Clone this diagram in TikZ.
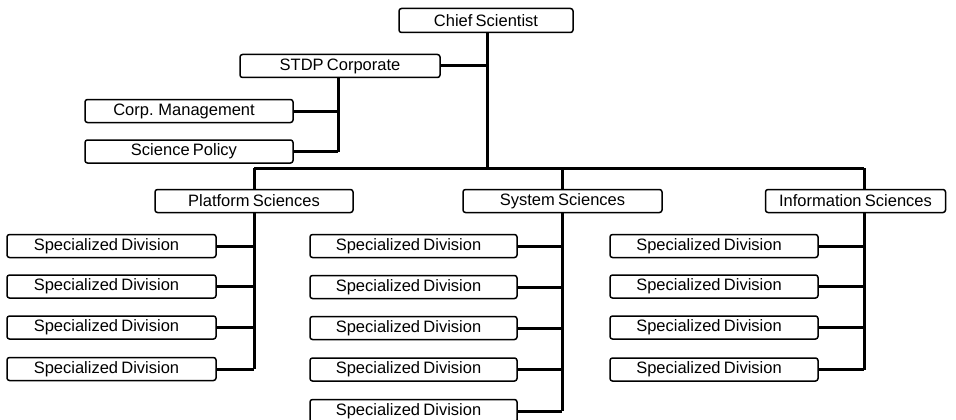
\documentclass[tikz,border=0pt]{standalone}
\usepackage{fontspec}
\setmainfont{Liberation Sans}
\begin{document}
\begin{tikzpicture}[x=1pt,y=-1pt,
 box/.style={draw, line width=1.5pt, rounded corners=2.5pt, minimum height=23pt, inner sep=0pt, fill=white, font=\fontsize{16.5}{18}\selectfont, execute at begin node={\spaceskip=0.2em plus 0.1em\relax}},
 lshift/.style={execute at end node={\hspace*{10pt}}},
 conn/.style={line width=3pt}]
\useasboundingbox (0,0) rectangle (956,420);
% top level
\node[box, minimum width=174pt, minimum height=24pt] (chief) at (486,20.5) {Chief Scientist};
\node[box, minimum width=200pt] (stdp) at (340,66) {STDP Corporate};
\node[box, lshift, minimum width=208pt] (corp) at (189,111) {Corp. Management};
\node[box, lshift, minimum width=208pt] (pol) at (189,151.5) {Science Policy};
% sciences
\node[box, minimum width=198pt] (plat) at (254,201) {Platform Sciences};
\node[box, minimum width=199pt] (sys) at (562.5,201) {System Sciences};
\node[box, minimum width=180pt] (info) at (855.5,201) {Information Sciences};
% divisions
\foreach \i/\y in {1/246,2/286.5,3/327.5,4/369}{
  \node[box, lshift, minimum width=209pt] (p\i) at (111.5,\y) {Specialized Division};
}
\foreach \i/\y in {1/246,2/287,3/328,4/369.5,5/411}{
  \node[box, lshift, minimum width=207pt] (s\i) at (413.5,\y) {Specialized Division};
}
\foreach \i/\y in {1/246,2/286.5,3/327.5,4/369.5}{
  \node[box, lshift, minimum width=208pt] (n\i) at (714,\y) {Specialized Division};
}
% coordinates
\coordinate (bus) at (487,168);
\coordinate (pb) at (254,168);
\coordinate (sb) at (562,168);
\coordinate (ib) at (864,168);
\coordinate (sv) at (338,0);
% connectors
\draw[conn] (chief.south -| bus) -- (bus);
\draw[conn] (stdp.east) -- (stdp.east -| bus);
\draw[conn] (pb) -- (ib);
\draw[conn] (pb) -- (plat.north -| pb);
\draw[conn] (sb) -- (sys.north -| sb);
\draw[conn] (ib) -- (info.north -| ib);
\draw[conn] (stdp.south -| sv) -- (pol.east -| sv);
\draw[conn] (corp.east) -- (corp.east -| sv);
\draw[conn] (pol.east) -- (pol.east -| sv);
\draw[conn] (plat.south -| pb) -- (p4.east -| pb);
\draw[conn] (sys.south -| sb) -- (s5.east -| sb);
\draw[conn] (info.south -| ib) -- (n4.east -| ib);
\foreach \i in {1,2,3,4}{
  \draw[conn] (p\i.east) -- (p\i.east -| pb);
  \draw[conn] (n\i.east) -- (n\i.east -| ib);
}
\foreach \i in {1,...,5}{
  \draw[conn] (s\i.east) -- (s\i.east -| sb);
}
\end{tikzpicture}
\end{document}
